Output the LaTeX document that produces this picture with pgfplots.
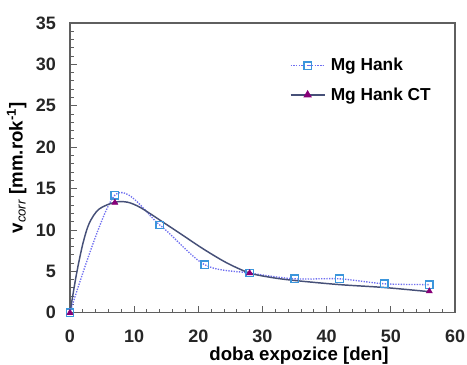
\documentclass[border=0pt]{standalone}
\usepackage{pgfplots}
\pgfplotsset{compat=1.18}
\usetikzlibrary{calc}
\usepackage{fontspec}
\setmainfont{Liberation Sans}
\definecolor{hankline}{RGB}{110,110,240}
\definecolor{hankmark}{RGB}{60,150,220}
\definecolor{ctline}{RGB}{70,80,120}
\definecolor{ctmark}{RGB}{135,0,120}
\definecolor{frame}{RGB}{95,95,95}
\begin{document}
\begin{tikzpicture}
\begin{axis}[
  name=ax,
  scale only axis,
  width=289pt, height=217.5pt,
  xmin=0, xmax=60, ymin=0, ymax=35,
  xtick={0,10,...,60}, ytick={0,5,...,35},
  minor x tick num=4, minor y tick num=4,
  tick align=inside,
  xtick pos=bottom, ytick pos=left,
  major tick length=5pt, minor tick length=3pt,
  axis line style={frame, line width=0.9pt},
  every tick/.style={frame, line width=0.7pt},
  /pgf/number format/assume math mode=true,
  tick label style={font=\bfseries\fontsize{13.5}{15}\selectfont, text=black!85},
  xticklabel style={yshift=-9pt},
  yticklabel style={xshift=-7pt},
  xlabel={doba expozice [den]},
  xlabel style={font=\bfseries\fontsize{14}{16}\selectfont, at={(axis description cs:0.595,0)}, anchor=north, yshift=-22pt},
  ylabel={v\textsubscript{\itshape\mdseries corr} [mm.rok\textsuperscript{-1}]},
  ylabel style={font=\bfseries\fontsize{14}{16}\selectfont, at={(axis description cs:0,0.5)}, anchor=south, yshift=29pt},
  legend style={draw=none, fill=none, at={(axis description cs:0.56,0.897)}, anchor=north west,
    font=\bfseries\fontsize{13}{15}\selectfont, row sep=7pt, column sep=2pt},
  legend cell align=left,
  legend image code/.code={\draw[mark repeat=2, mark phase=2, #1] plot coordinates {(0cm,0cm) (0.45cm,0cm) (0.9cm,0cm)};},
]
\addplot[hankline, densely dotted, line width=1pt, smooth,
  mark=square, mark size=2.8pt, mark options={solid, draw=hankmark, fill=white, line width=1pt}]
  coordinates {(0,0) (7,14.2) (14,10.6) (21,5.8) (28,4.8) (35,4.1) (42,4.1) (49,3.5) (56,3.4)};
\addlegendentry{Mg Hank}
\addplot[ctline, line width=1.1pt, smooth, no marks, forget plot]
  coordinates {(0,0) (1,4.6) (2,8.3) (3,10.8) (4.5,12.5) (7,13.35) (9,13.35) (11,12.7) (14,11.2) (17.5,9.4) (21,7.6) (24.5,6.0) (28,4.8) (31.5,4.25) (35,3.9) (42,3.4) (49,3.05) (56,2.55)};
\addplot[only marks, mark=triangle*, mark size=2.6pt, mark options={draw=ctmark, fill=ctmark}, forget plot]
  coordinates {(0,0) (7,13.3) (28,4.8) (56,2.6)};
\addlegendimage{ctline, line width=1.1pt, mark=triangle*, mark size=2.6pt, mark options={draw=ctmark, fill=ctmark}}
\addlegendentry{Mg Hank CT}
\end{axis}
\pgfresetboundingbox
\path[use as bounding box] ($(ax.south west)+(-52.5pt,-39pt)$) rectangle ($(ax.north east)+(9pt,17.25pt)$);
\end{tikzpicture}
\end{document}
